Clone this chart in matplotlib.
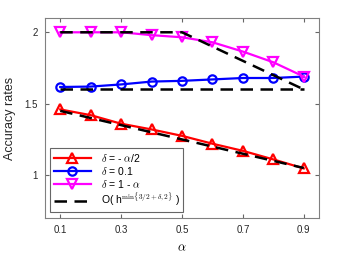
import matplotlib
matplotlib.use("Agg")
import matplotlib.pyplot as plt

plt.rcParams['font.family'] = ['Liberation Sans', 'DejaVu Sans']
plt.rcParams['mathtext.fontset'] = 'cm'

alpha = [0.1, 0.2, 0.3, 0.4, 0.5, 0.6, 0.7, 0.8, 0.9]
rate_neg = [1.46, 1.42, 1.36, 1.32, 1.275, 1.22, 1.17, 1.11, 1.047]
rate_01 = [1.617, 1.62, 1.635, 1.655, 1.66, 1.67, 1.68, 1.68, 1.69]
rate_1ma = [2.0, 2.0, 2.0, 1.98, 1.965, 1.93, 1.865, 1.79, 1.69]
theory_neg = [1.45, 1.40, 1.35, 1.30, 1.25, 1.20, 1.15, 1.10, 1.05]
theory_01 = [1.6] * 9
theory_1ma = [2.0, 2.0, 2.0, 2.0, 2.0, 1.9, 1.8, 1.7, 1.6]

fig = plt.figure(figsize=(3.52, 2.54), dpi=100)
ax = fig.add_axes([45 / 352, 1 - 218 / 254, 274 / 352, 200 / 254])

ax.plot(alpha, rate_neg, '-^', color='red', lw=1.6, ms=7, mfc='none', mew=1.6,
        label=r'$\delta$ = - $\alpha$/2')
ax.plot(alpha, rate_01, '-o', color='blue', lw=1.6, ms=6, mfc='none', mew=1.6,
        label=r'$\delta$ = 0.1')
ax.plot(alpha, rate_1ma, '-v', color='magenta', lw=1.6, ms=7, mfc='none', mew=1.6,
        label=r'$\delta$ = 1 - $\alpha$')
ax.plot(alpha, theory_neg, '--', color='black', lw=1.8, dashes=(5, 3),
        label=r'O( h$^{\mathrm{min}\{3/2+\delta,2\}}$ )')
ax.plot(alpha, theory_01, '--', color='black', lw=1.8, dashes=(5, 3))
ax.plot(alpha, theory_1ma, '--', color='black', lw=1.8, dashes=(5, 3))

ax.set_xlim(0.05, 0.95)
ax.set_ylim(0.7, 2.1)
ax.set_xticks([0.1, 0.3, 0.5, 0.7, 0.9])
ax.set_xticklabels(['0.1', '0.3', '0.5', '0.7', '0.9'])
ax.set_yticks([1, 1.5, 2])
ax.set_yticklabels(['1', '1.5', '2'])
ax.tick_params(direction='in', top=True, right=True, labelsize=7, length=3,
               color='0.4', labelcolor='0.15', pad=5)
for s in ax.spines.values():
    s.set_color('0.5')
    s.set_linewidth(0.8)

ax.set_xlabel(r'$\alpha$', fontsize=9, labelpad=5)
ax.set_ylabel('Accuracy rates', fontsize=9, color='0.15', labelpad=6)

leg = ax.legend(loc='lower left', fontsize=7.5, numpoints=1, handlelength=3.6,
                borderpad=0.35, labelspacing=0.1, handletextpad=0.9,
                borderaxespad=0, fancybox=False, framealpha=1, edgecolor='0.4',
                bbox_to_anchor=(5 / 274, 6 / 200))
leg.get_frame().set_linewidth(0.8)

fig.savefig('out.png', dpi=100)
